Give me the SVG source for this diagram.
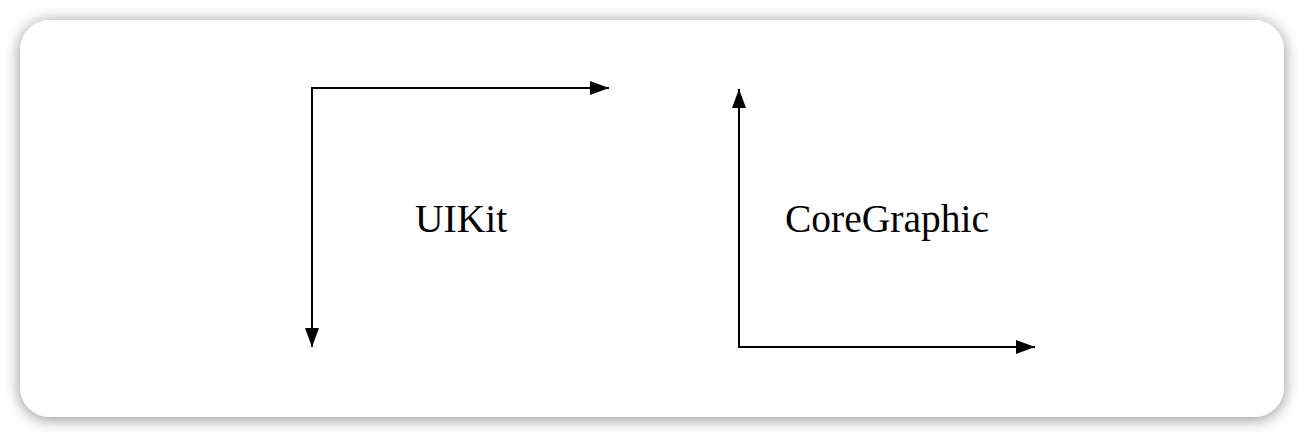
<svg xmlns="http://www.w3.org/2000/svg" width="1304" height="438" viewBox="0 0 1304 438">
<defs>
<filter id="sh" x="-5%" y="-15%" width="110%" height="130%">
<feGaussianBlur in="SourceAlpha" stdDeviation="8"/>
<feOffset dx="0" dy="2"/>
<feComponentTransfer><feFuncA type="linear" slope="0.45"/></feComponentTransfer>
<feMerge><feMergeNode/><feMergeNode in="SourceGraphic"/></feMerge>
</filter>
<marker id="ah" markerWidth="19" markerHeight="14" refX="19" refY="7" orient="auto" markerUnits="userSpaceOnUse" viewBox="0 0 19 14">
<path d="M0,0 L19,7 L0,14 Z" fill="#000"/>
</marker>
<style>
.ln{fill:none;stroke:#000;stroke-width:2;marker-end:url(#ah)}
.lbl{font-family:"Liberation Serif","Times New Roman",serif;font-size:39.5px;fill:#000}
</style>
</defs>
<rect x="0" y="0" width="1304" height="438" fill="#fff"/>
<rect x="20" y="20" width="1264" height="397" rx="30" ry="30" fill="#fff" filter="url(#sh)"/>
<g id="connectors">
<path class="ln" d="M312,88 L609,88"/>
<path class="ln" d="M312,87 L312,347"/>
<path class="ln" d="M739,348 L739,89"/>
<path class="ln" d="M738,347 L1035,347"/>
</g>
<g id="uikit"><text class="lbl" x="415" y="232">UIKit</text></g>
<g id="coregraphic"><text class="lbl" x="785" y="232">CoreGraphic</text></g>
</svg>
